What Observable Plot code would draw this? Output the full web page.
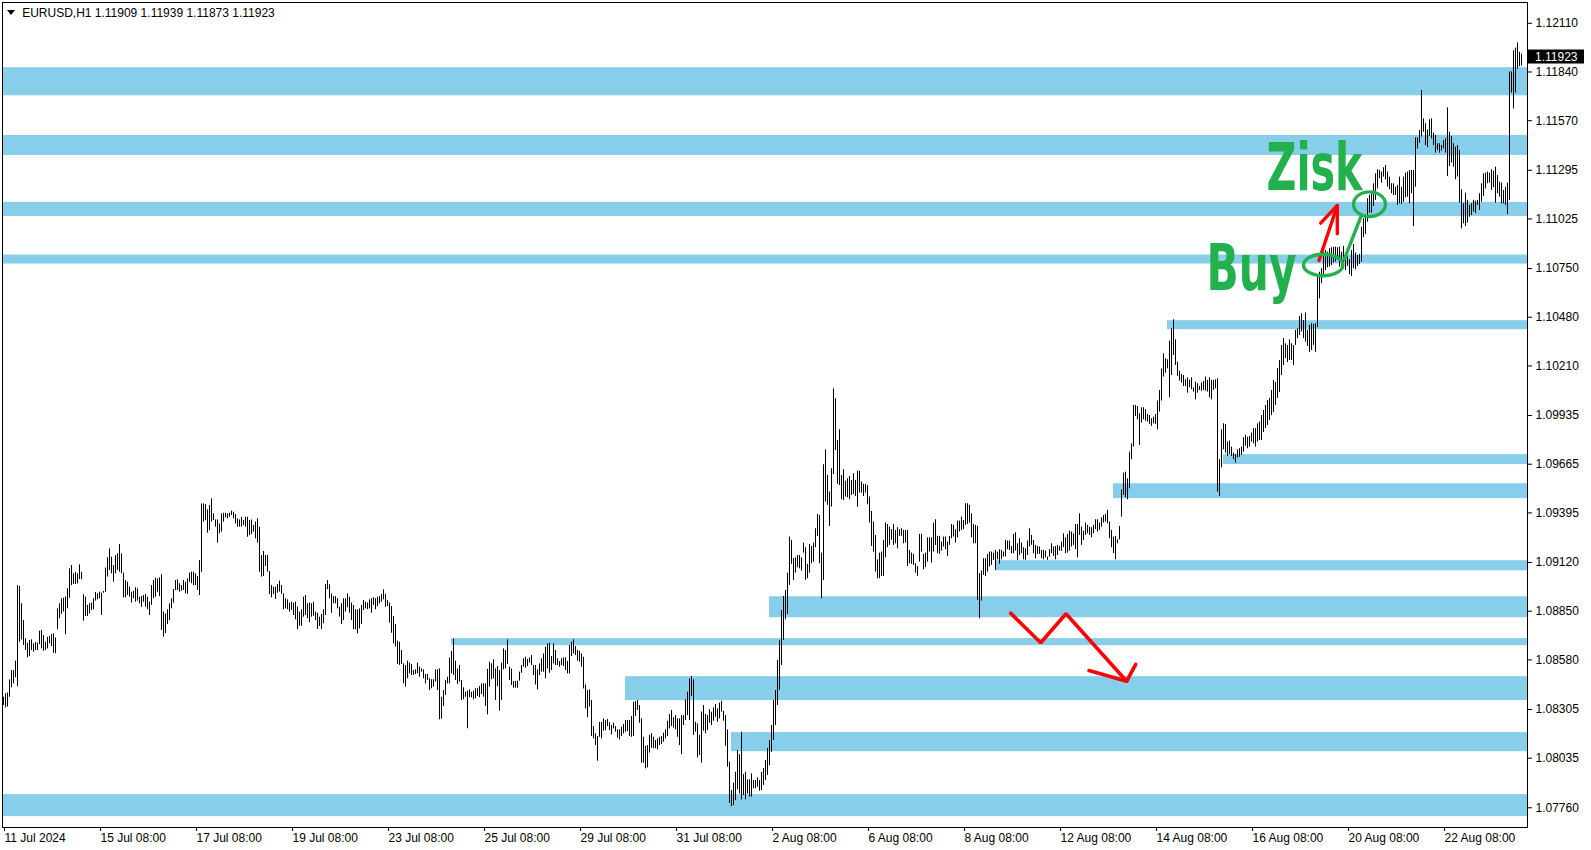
<!DOCTYPE html>
<html><head><meta charset="utf-8">
<script src="https://cdn.jsdelivr.net/npm/d3@7"></script>
<script src="https://cdn.jsdelivr.net/npm/@observablehq/plot@0.6"></script>
<style>
html,body{margin:0;padding:0;background:#fff;}
#chart{position:relative;width:1591px;height:850px;overflow:hidden;}
</style></head><body><div id="chart"></div>
<script>
// ---- data: EURUSD H1 bars (prices in points, 1 point = 0.00001) ----
const symbol = "EURUSD,H1";
const lastOpen = 1.11909, lastHigh = 1.11939, lastLow = 1.11873, lastClose = 1.11923;

const highPts = [
108373,108392,108396,108469,108521,108521,108573,108992,108987,108891,
108798,108697,108673,108688,108691,108669,108676,108673,108739,108743,
108715,108678,108706,108710,108721,108725,108702,108863,108891,108919,
108922,108928,108974,109085,109103,109057,109066,109057,109107,109066,
108941,108928,108882,108891,108895,108919,108954,108946,108955,108950,
108959,109089,109146,109196,109150,109103,109159,109168,109220,109168,
109061,109020,109011,108983,108955,108961,108980,108974,108928,108931,
108937,108943,108928,108900,108992,109020,109033,109029,109035,109052,
108845,108835,108858,108891,108919,108970,109020,109024,109002,108992,
109020,109011,109029,109061,109066,109066,109057,109042,109131,109445,
109445,109442,109412,109436,109473,109390,109356,109356,109334,109390,
109393,109393,109390,109393,109405,109399,109386,109362,109356,109371,
109353,109371,109371,109353,109356,109325,109344,109362,109316,
109159,109181,109159,109159,109070,108992,108983,108983,108998,109017,108992,
108946,108919,108913,108895,108900,108895,108900,108872,108845,108858,
108928,108937,108891,108895,108891,108900,108845,108839,108817,108832,
108858,108998,109020,108996,108946,108931,108931,108919,108872,108891,
108919,108919,108946,108928,108895,108882,108858,108858,108863,108882,
108909,108900,108895,108913,108919,108924,108919,108928,108931,108943,
108968,108943,108909,108895,108876,108821,108776,108684,108678,108632,
108558,108549,108573,108562,108555,108521,108525,108562,108540,108530,
108525,108499,108499,108475,108470,108470,108525,108525,108530,108373,
108410,108466,108484,108590,108627,108695,108573,108530,108549,108466,
108425,108401,108407,108414,108401,108407,108420,108420,108432,108447,
108447,108447,108527,108567,108558,108580,108530,108543,108521,108562,
108641,108632,108691,108540,108530,108460,108460,108462,108512,108549,
108586,108595,108582,108591,
108604,108549,108549,108525,108558,108586,
108613,108650,108669,108672,108598,108669,108632,108586,108571,108586,
108591,108591,108571,108660,108678,108691,108654,108632,108628,108613,
108595,108441,108410,108414,108355,108210,108170,108155,108234,108234,
108253,108244,108249,108231,108216,108229,108210,108192,108192,108207,
108221,108244,108244,108244,108266,108345,108349,108355,108327,108253,
108151,108100,108105,108161,108170,108151,108133,108142,108151,108155,
108174,108192,108240,108277,108299,108259,108271,108253,108253,108271,
108271,108358,108401,108475,108488,108469,108234,108225,108161,108290,
108327,108277,108271,108303,108290,108314,108332,108308,108340,108351,
108295,108271,108192,108013,107856,107896,107957,108077,108055,108179,
107944,107957,107915,107915,107948,107911,107911,107926,107911,
107956,107978,108022,108089,108133,108216,108355,108410,108577,108688,108854,108932,
108965,109061,109261,109243,109141,109146,109159,109159,109146,
109228,109202,109110,109220,109209,109228,109307,109387,109381,109172,
109662,109745,109603,109511,109640,110083,110028,109797,109856,109603,
109634,109571,109584,109597,109575,109612,109575,109627,109625,109566,
109553,109553,109546,109483,109403,109344,109270,109135,109172,109178,
109243,109339,109331,109316,109302,109331,109298,109313,109302,109307,
109298,109298,109298,109187,109172,109165,109113,109098,109276,109276,
109165,109172,109257,109257,109257,109339,109357,109265,109265,109233,
109261,109261,109233,109265,109331,109326,109302,109350,109350,109372,
109353,109446,109446,109437,109390,109331,109326,109320,109058,109073,
109141,109141,109165,109178,109178,109172,109187,109178,109191,109187,
109178,109243,109239,109239,
109209,109276,109285,109224,109252,109228,
109202,109196,109239,109307,109270,109242,109215,109209,109206,109187,
109187,109183,109150,109191,109224,109206,109209,109215,109209,109233,
109279,109257,109276,109294,109289,109279,109331,109331,109390,109316,
109294,109339,109326,109316,109313,109326,109357,109357,109339,109368,
109381,109387,109409,109344,109298,109261,109265,109246,109320,109523,
109616,109621,109584,109732,109778,109991,109991,109985,109945,109978,
109978,109967,109941,109935,109917,109926,109941,110015,110074,110194,
110277,110250,110244,110348,110416,110466,110355,110231,110181,110163,
110157,110133,110144,110130,110144,110089,110120,110111,110096,110115,
110124,110148,110130,110144,110130,110130,110133,110139,109690,109856,
109889,109886,109788,109793,109760,109727,109719,109745,109751,109760,
109812,109825,109815,109819,109838,109862,109862,109889,109899,
109935,109963,109991,110018,110030,110074,110129,110118,110196,110240,110323,110362,
110333,110324,110355,110333,110323,110407,110416,110484,110499,
110462,110503,110407,110435,110444,110440,110444,110703,110730,110749,
110841,110850,110841,110860,110865,110869,110869,110865,110869,110841,
110873,110804,110813,110799,110850,110884,110836,110823,110828,110980,
111026,111035,111137,111155,111165,111220,111275,111298,111294,111285,
111309,111322,111285,111257,111220,111220,111201,111211,111257,111201,
111257,111279,111285,111294,111294,111294,111475,111475,111516,111737,
111580,111553,111519,111575,111580,111501,111488,111442,111442,111432,
111460,111469,111641,111506,111482,111442,111423,111432,111405,111187,
111109,111168,111128,111100,111109,111128,111124,111128,111165,111220,
111275,111279,111285,111279,111298,111290,111312,111266,111229,111224,
111183,111201,111224,111840,111840,111958,111972,112001,111949,111939
];

const lowPts = [
108327,108314,108318,108373,108425,108447,108481,108432,108678,108691,
108660,108632,108591,108599,108632,108623,108632,108632,108665,108641,
108628,108632,108641,108669,108654,108617,108614,108747,108808,108832,
108845,108719,108863,108922,108992,108998,108998,109002,109026,109024,
108795,108821,108821,108835,108854,108858,108906,108913,108919,108826,
108950,108955,109039,109076,109057,109011,109057,109076,109066,109057,
108924,108924,108937,108928,108895,108919,108900,108906,108891,108872,
108900,108872,108858,108826,108882,108919,108928,108955,108931,108743,
108706,108725,108776,108798,108863,108895,108965,108965,108955,108961,
108965,108946,108943,109011,109002,108992,108992,108965,108937,109066,
109344,109353,109283,109297,109344,109353,109316,109227,109279,109288,
109344,109368,109362,109371,109381,109362,109334,109316,109316,109316,
109325,109316,109260,109270,109275,109288,109251,109227,109066,
109039,109042,109098,109066,108943,108924,108943,108915,108950,108956,108943,
108858,108863,108858,108845,108854,108826,108802,108749,108767,108767,
108817,108826,108808,108786,108817,108822,108798,108749,108765,108749,
108780,108826,108970,108919,108839,108891,108891,108863,108817,108776,
108798,108845,108869,108839,108798,108747,108747,108725,108752,108776,
108854,108863,108858,108863,108839,108882,108858,108876,108891,108900,
108913,108872,108876,108784,108728,108669,108651,108555,108549,108555,
108447,108429,108475,108503,108494,108494,108499,108503,108484,108512,
108475,108447,108466,108410,108420,108429,108457,108410,108248,108251,
108322,108383,108447,108447,108503,108494,108466,108444,108457,108355,
108359,108373,108198,108370,108370,108359,108364,108377,108370,108388,
108373,108322,108275,108429,108470,108475,108355,108432,108296,108355,
108525,108530,108555,108466,108438,108423,108423,108423,108462,108506,
108540,108534,108543,108562,
108549,108493,108441,108414,108493,108512,
108512,108475,108530,108506,108521,108558,108549,108549,108539,108549,
108543,108521,108502,108502,108598,108613,108604,108573,108567,108539,
108419,108308,108259,108318,108155,108142,108105,108018,108151,108142,
108185,108188,108210,108188,108164,108197,108179,108146,108136,108155,
108170,108179,108183,108155,108151,108155,108266,108299,108229,108007,
108007,107976,107981,108063,108090,108087,108087,108081,108105,108111,
108124,108142,108155,108197,108210,108203,108192,108151,108105,108055,
108216,108244,108271,108244,108377,108161,108179,108037,108050,108007,
108185,108170,108188,108229,108216,108240,108262,108234,108253,108290,
108240,108101,107985,107784,107767,107772,107800,107859,107837,107804,
107828,107804,107837,107819,107819,107865,107865,107874,107852,
107856,107884,107911,107939,107994,108067,108133,108216,108327,108410,108549,108688,
108803,108832,108993,109110,109021,109061,109091,109085,109073,
109172,109021,109030,109061,109113,109122,109202,109265,109113,108919,
109021,109455,109437,109320,109427,109608,109741,109553,109547,109468,
109464,109483,109479,109468,109492,109497,109486,109427,109505,109505,
109486,109505,109440,109339,109209,109178,109067,109030,109030,109043,
109043,109146,109202,109215,109243,109215,109224,109196,109265,109265,
109224,109228,109098,109113,109110,109104,109061,109043,109122,109178,
109080,109091,109122,109178,109117,109178,109215,109169,109165,109183,
109206,109191,109154,109215,109252,109261,109228,109257,109289,109298,
109302,109326,109331,109339,109257,109224,109224,108910,108808,108906,
109049,109043,109067,109095,109104,109132,109076,109135,109110,109135,
109150,109150,109191,109187,
109169,109169,109183,109132,109159,109169,
109135,109132,109159,109206,109215,109169,109141,109165,109165,109141,
109135,109146,109132,109150,109169,109154,109135,109159,109183,109183,
109202,109169,109172,109183,109206,109215,109191,109146,109270,109215,
109242,109270,109279,109270,109257,109279,109302,109289,109298,109316,
109339,109344,109335,109252,109202,109169,109135,109224,109246,109372,
109492,109479,109468,109529,109690,109760,109930,109911,109769,109893,
109911,109904,109899,109886,109875,109889,109886,109856,109954,110015,
110148,110170,110194,110033,110157,110268,110213,110152,110126,110115,
110096,110096,110059,110089,110078,110065,110022,110059,110074,110070,
110074,110070,110065,110033,110022,110074,110083,109510,109486,109645,
109745,109727,109708,109719,109708,109690,109671,109701,109704,109714,
109732,109764,109751,109760,109788,109778,109760,109788,109797,
109797,109841,109863,109880,109908,109935,109952,109991,110030,110063,110157,110212,
110251,110229,110240,110240,110212,110324,110361,110379,110398,
110361,110342,110318,110285,110296,110324,110285,110422,110582,110666,
110703,110739,110754,110758,110767,110780,110786,110795,110758,110743,
110749,110739,110762,110717,110706,110749,110743,110762,110773,110786,
110921,110939,111007,111057,111057,111094,111128,111192,111248,111224,
111257,111242,111201,111187,111165,111155,111155,111100,111109,111105,
111118,111142,111146,111109,111165,110983,111201,111414,111445,111479,
111506,111432,111420,111482,111469,111432,111390,111405,111390,111401,
111414,111390,111261,111316,111335,111312,111242,111257,111113,110970,
110998,110983,111002,111035,111044,111063,111054,111100,111072,111118,
111150,111192,111220,111224,111183,111198,111113,111165,111146,111109,
111109,111100,111050,111127,111723,111635,111723,111855,111869,111873
];

// time axis: bar index of each label and its text
const xTickBars = [0,48,96,144,192,240,288,336,384,432,480,528,576,624,672,720];
const xTickLabels = ["11 Jul 2024","15 Jul 08:00","17 Jul 08:00","19 Jul 08:00","23 Jul 08:00","25 Jul 08:00",
  "29 Jul 08:00","31 Jul 08:00","2 Aug 08:00","6 Aug 08:00","8 Aug 08:00","12 Aug 08:00",
  "14 Aug 08:00","16 Aug 08:00","20 Aug 08:00","22 Aug 08:00"];
// price axis ticks
const yTicks = [1.12110,1.11840,1.11570,1.11295,1.11025,1.10750,1.10480,1.10210,1.09935,
  1.09665,1.09395,1.09120,1.08850,1.08580,1.08305,1.08035,1.07760];

// support / resistance zones (price top, price bottom, bar where the zone starts; -0.5 = left edge)
const zoneTop    = [1.11864,1.11488,1.11117,1.10825,1.10461,1.09718,1.09557,1.09130,1.08930,1.08698,1.08487,1.08177,1.07833];
const zoneBottom = [1.11708,1.11377,1.11039,1.10775,1.10411,1.09663,1.09474,1.09074,1.08814,1.08659,1.08354,1.08071,1.07711];
const zoneStart  = [-0.5,-0.5,-0.5,-0.5,582,610,555,496,383,224,311,364,-0.5];

// hand-drawn annotations, in (bar, price)
const zigBar = [503.6,518.6,531.25,561.6];
const zigPrice = [1.08839,1.08675,1.08836,1.08462];
const zigHeadBar = [542.75,561.6,566.1];
const zigHeadPrice = [1.08521,1.08462,1.08555];
const upBar = [657.75,666.9];
const upPrice = [1.10795,1.11100];
const upHeadBar = [658.6,666.9,666.9];
const upHeadPrice = [1.11002,1.11100,1.10943];
const linkBar = [670.4,678.6];
const linkPrice = [1.10802,1.11035];
const ringBar = [660.1,683.25];
const ringPrice = [1.10767,1.11104];
const labelText = ["Zisk","Buy"];
const labelBar = [655.75,624.25];
const labelPrice = [1.11183,1.10628];

// ---- build ----
if (highPts.length !== lowPts.length) throw new Error("length mismatch " + highPts.length + " vs " + lowPts.length);
const high = highPts.map(v => v / 1e5);
const low = lowPts.map(v => v / 1e5);
const bars = d3.range(high.length);
const xDomain = [-0.5, 762];
const zones = d3.range(zoneTop.length);
const pts = (bx, py) => bx.map((b, i) => ({b, p: py[i]}));

const RED = "#ff0000", GREEN = "#22b14c", BLUE = "#87ceeb";

const chart = Plot.plot({
  width: 1591, height: 850,
  marginLeft: 2, marginRight: 64, marginTop: 2, marginBottom: 23,
  x: {domain: xDomain, axis: null, label: null},
  y: {domain: [1.076506, 1.122253], axis: null, label: null},
  style: {fontFamily: "'Liberation Sans', Arial, sans-serif", fontSize: "12px", color: "black", background: "white", overflow: "visible"},
  marks: [
    Plot.rect(zones, {x1: i => zoneStart[i], x2: xDomain[1], y1: i => zoneBottom[i], y2: i => zoneTop[i], fill: BLUE}),
    Plot.ruleX(bars, {x: i => i, y1: i => low[i], y2: i => high[i], stroke: "black", strokeWidth: 1}),
    Plot.line(pts(zigBar, zigPrice), {x: "b", y: "p", stroke: RED, strokeWidth: 3.6, strokeLinejoin: "miter", strokeLinecap: "round"}),
    Plot.line(pts(zigHeadBar, zigHeadPrice), {x: "b", y: "p", stroke: RED, strokeWidth: 3.6, strokeLinejoin: "miter", strokeLinecap: "round"}),
    Plot.line(pts(upBar, upPrice), {x: "b", y: "p", stroke: RED, strokeWidth: 3.4, strokeLinecap: "round"}),
    Plot.line(pts(upHeadBar, upHeadPrice), {x: "b", y: "p", stroke: RED, strokeWidth: 3.4, strokeLinejoin: "miter", strokeLinecap: "round"}),
    Plot.line(pts(linkBar, linkPrice), {x: "b", y: "p", stroke: GREEN, strokeWidth: 3.4, strokeLinecap: "round"}),
    Plot.frame({stroke: "black"}),
    Plot.axisY({anchor: "right", label: null, ticks: yTicks, tickFormat: d => d.toFixed(5), tickSize: 4, tickPadding: 4, textAnchor: "start"}),
    Plot.axisX({anchor: "bottom", label: null, ticks: xTickBars, tickFormat: d => xTickLabels[xTickBars.indexOf(d)], tickSize: 4, tickPadding: 2, textAnchor: "start", dx: 1}),
    Plot.text([symbol], {frameAnchor: "top-left", text: d => d, dx: 19.7, dy: 6.3, lineAnchor: "top", textAnchor: "start", fill: "black"}),
    Plot.text([[lastOpen, lastHigh, lastLow, lastClose].map(v => v.toFixed(5)).join(" ")], {frameAnchor: "top-left", text: d => d, dx: 92.3, dy: 6.3, lineAnchor: "top", textAnchor: "start", fill: "black"})
  ]
});
document.getElementById("chart").append(chart);

const xs = chart.scale("x"), ys = chart.scale("y");
const X = v => xs.apply(v), Y = v => ys.apply(v);
const svg = d3.select(chart);

// title triangle
svg.append("path").attr("d", "M7,10L15,10L11,15Z").attr("fill", "black");

// ellipses around buy / target
const ringRx = [19.7, 16], ringRy = [10.7, 12.3];
ringBar.forEach((b, i) => {
  svg.append("ellipse").attr("cx", X(b)).attr("cy", Y(ringPrice[i]))
    .attr("rx", ringRx[i]).attr("ry", ringRy[i])
    .attr("fill", "none").attr("stroke", GREEN).attr("stroke-width", 3.4);
});

// big green words
const labelSize = [66, 64], labelWidth = [96, 90];
labelText.forEach((t, i) => {
  svg.append("text").attr("x", X(labelBar[i])).attr("y", Y(labelPrice[i]))
    .attr("text-anchor", "middle")
    .attr("font-family", "'DejaVu Sans', sans-serif").attr("font-weight", "bold")
    .attr("font-size", labelSize[i])
    .attr("textLength", labelWidth[i]).attr("lengthAdjust", "spacingAndGlyphs")
    .attr("fill", GREEN).text(t);
});

// current price marker on the price axis
const py = Y(lastClose);
const axisX0 = 1591 - 64;
svg.append("rect").attr("x", axisX0 + 1).attr("y", py - 7).attr("width", 56).attr("height", 14).attr("fill", "black");
svg.append("text").attr("x", axisX0 + 8).attr("y", py).attr("dy", "0.35em")
  .attr("text-anchor", "start")
  .attr("fill", "white").attr("font-size", 12).text(lastClose.toFixed(5));
</script></body></html>
